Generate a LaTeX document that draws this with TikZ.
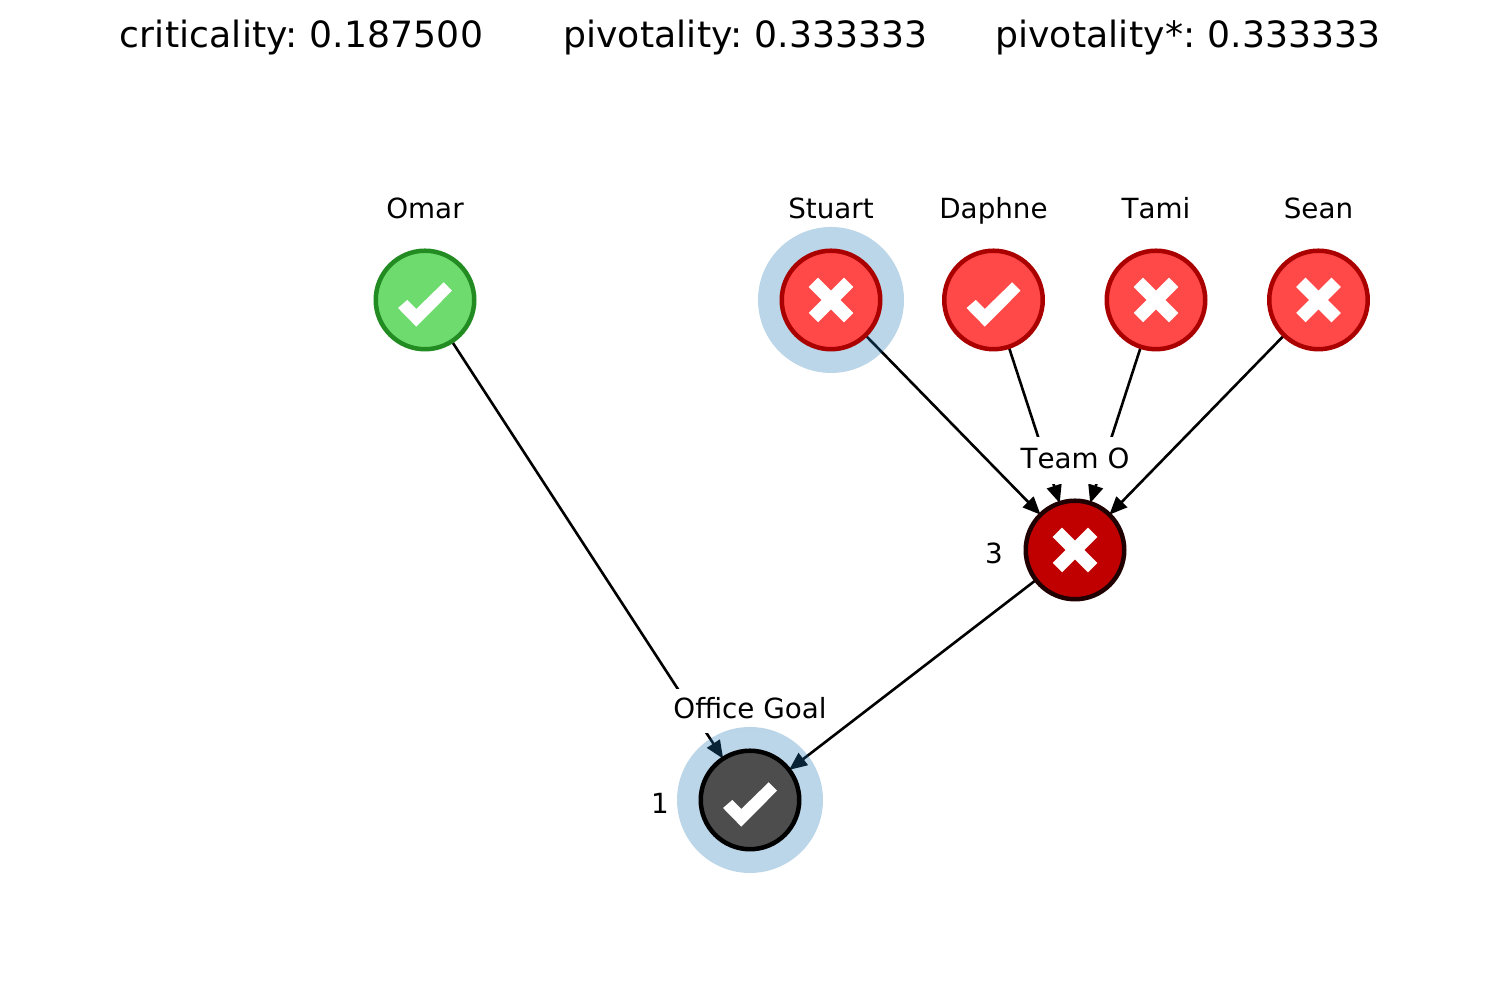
\documentclass[tikz,border=0pt]{standalone}
\usepackage{fontspec}
\setmainfont[Kerning=Off]{DejaVu Sans}
\newfontfamily\titlefont[WordSpace=0.7, LetterSpace=0.3]{DejaVu Sans}
\usetikzlibrary{positioning, arrows.meta, backgrounds}
\tikzset{
every node/.style={font=\fontsize{7.9}{10}\selectfont}, % names and small numbers
on grid, % node distance runs from centre to centre
node distance=1.625cm, % spacing of the top row
gate/.style={circle, draw, line width=0.045cm, minimum size=0.985cm, inner sep=0pt, outer sep=0pt}, % the round nodes
passed/.style={gate, fill=okfill, draw=okline}, % green person
failed/.style={gate, fill=badfill, draw=badline}, % red person
teamfail/.style={gate, fill=teamfill, draw=teamline}, % team result
goalpass/.style={gate, fill=goalfill, draw=black}, % office result
halo/.style={circle, fill=haloblue, opacity=0.3, minimum size=1.46cm, inner sep=0pt}, % sits over the edges
titletext/.style={font=\titlefont\fontsize{10.3}{12}\selectfont}, % header line
nametext/.style={text height=1.6ex, text depth=0pt}, % keeps the names on one baseline
boxlabel/.style={fill=white, inner sep=0pt, minimum width=1.12cm}, % hides the edges behind it
link/.style={line width=0.026cm, -{Triangle[length=0.18cm, width=0.15cm]}}, % the edges
tickmark/.pic={\fill[white, x=0.01cm, y=0.01cm] (-27,-8) -- (-17.7,0) -- (-8.7,-9) -- (18.7,17.7) -- (27,9.3) -- (-8.7,-26.7) -- cycle;},
crossmark/.pic={\fill[white, x=0.01cm, y=0.01cm] (-13,22.3) -- (0,9.3) -- (13,22.3) -- (22.3,13) -- (9.3,0) -- (22.3,-13) -- (13,-22.3) -- (0,-9.3) -- (-13,-22.3) -- (-22.3,-13) -- (-9.3,0) -- (-22.3,13) -- cycle;},
}
\definecolor{okfill}{HTML}{6EDB6E}
\definecolor{okline}{HTML}{228B22}
\definecolor{badfill}{HTML}{FF4848}
\definecolor{badline}{HTML}{AA0000}
\definecolor{teamfill}{HTML}{C00000}
\definecolor{teamline}{HTML}{200000}
\definecolor{goalfill}{HTML}{4D4D4D}
\definecolor{haloblue}{HTML}{1F77B4}
\begin{document}
\begin{tikzpicture}
        \useasboundingbox (0,0) rectangle (15,10);

        \node[titletext] (crit) at (3.015,9.62) {criticality: 0.187500};
        \node[titletext] (pivot) at (7.455,9.62) {pivotality: 0.333333};
        \node[titletext] (pivotstar) at (11.88,9.62) {pivotality*: 0.333333};

        \node[passed] (omar) at (4.25,7) {};
        \node[failed] (stuart) at (8.31,7) {};
        \node[failed, right = of stuart] (daphne) {};
        \node[failed, right = of daphne] (tami) {};
        \node[failed, right = of tami] (sean) {};
        \node[teamfail] (team) at (10.75,4.5) {};
        \node[goalpass] (goal) at (7.5,2) {};

        \node[nametext, above = 0.97cm of omar] (omarname) {Omar};
        \node[nametext, above = 0.97cm of stuart] (stuartname) {Stuart};
        \node[nametext, above = 0.97cm of daphne] (daphnename) {Daphne};
        \node[nametext, above = 0.97cm of tami] (taminame) {Tami};
        \node[nametext, above = 0.97cm of sean] (seanname) {Sean};
        \node[left = 0.81cm of team, yshift=-0.03cm] (teamrank) {3};
        \node[left = 0.90cm of goal, yshift=-0.03cm] (goalrank) {1};

        \pic at (omar) {tickmark};
        \pic at (stuart) {crossmark};
        \pic at (daphne) {tickmark};
        \pic at (tami) {crossmark};
        \pic at (sean) {crossmark};
        \pic at (team) {crossmark};
        \pic at (goal) {tickmark};

        \begin{scope}[on background layer]
        \draw[link]
        (omar) edge (goal)
        (team) edge (goal)
        (stuart) edge (team)
        (daphne) edge (team)
        (tami) edge (team)
        (sean) edge (team);

        \node[boxlabel, minimum height=0.47cm, text depth=0.04cm, above = 0.895cm of team] (teamlabel) {Team O};
        \node[boxlabel, minimum height=0.44cm, text depth=0.06cm, above = 0.89cm of goal] (goallabel) {Office Goal};
        \node[halo] (stuarthalo) at (stuart) {};
        \node[halo] (goalhalo) at (goal) {};
        \end{scope}
    \end{tikzpicture}
\end{document}
